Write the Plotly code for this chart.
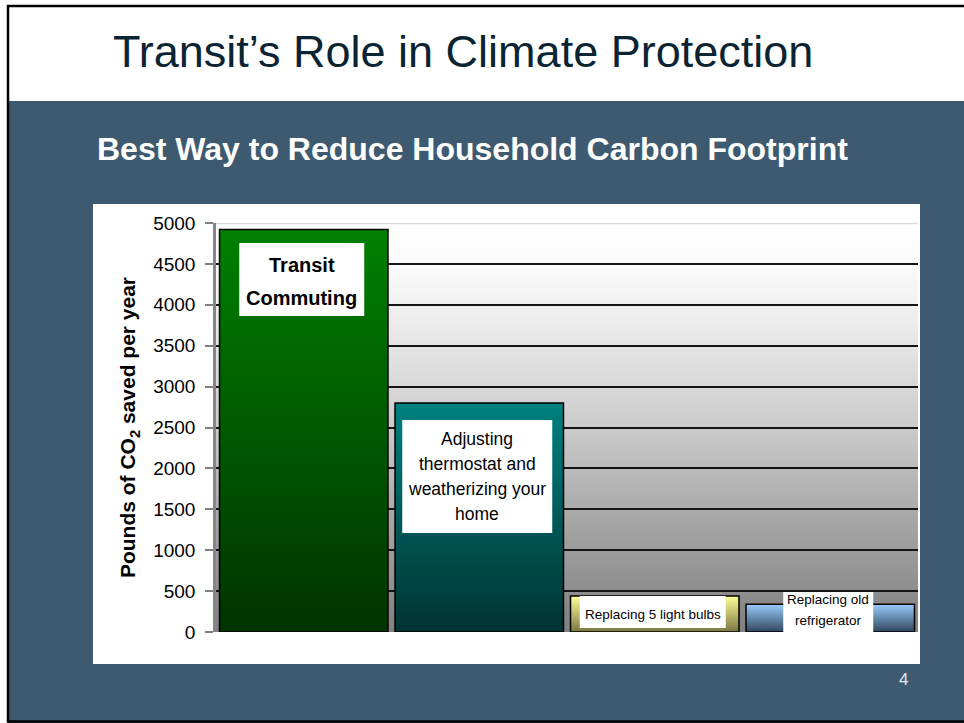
import base64
import plotly.graph_objects as go

# ---------------- data ----------------
categories = [
    "Transit Commuting",
    "Adjusting thermostat and weatherizing your home",
    "Replacing 5 light bulbs",
    "Replacing old refrigerator",
]
values = [4920, 2800, 440, 340]
label_lines = [
    ["<b>Transit</b>", "<b>Commuting</b>"],
    ["Adjusting", "thermostat and", "weatherizing your", "home"],
    ["Replacing 5 light bulbs"],
    ["Replacing old", "refrigerator"],
]
y_tickvals = [0, 500, 1000, 1500, 2000, 2500, 3000, 3500, 4000, 4500, 5000]
y_ticktext = [str(v) for v in y_tickvals]

# ---------------- styles ----------------
W, H = 964, 723
ML, MR, MT, MB = 216, 46, 223, 91
PW, PH = W - ML - MR, H - MT - MB
YMAX = 5000

top_colors = ["#008000", "#008080", "#ffff99", "#99ccff"]
bottom_colors = ["#003300", "#003333", "#7a7640", "#2f465c"]
BAR_HALF = 0.48
FONT = "Liberation Sans, Arial, sans-serif"
SLIDE_BLUE = "#3d5a70"

# label box geometry (pixels) and text style
label_box = [  # (width, height, y centre in data units, font size, line gap px, line offset px)
    (125, 73, 4309, 20, 33, -2),
    (150, 113, 1901, 17.5, 25.3, 0),
    (146, 32, 244, 13.5, 0, -2),
    (90, 42, 232, 13.5, 21.7, 3),
]


def px_x(px):
    return (px - ML) / PW


def px_y(py):
    return (MT + PH - py) / PH


fig = go.Figure()

# bars drawn as gradient-filled polygons on the data axes
for i, v in enumerate(values):
    xs = [i - BAR_HALF, i + BAR_HALF, i + BAR_HALF, i - BAR_HALF, i - BAR_HALF]
    ys = [0, 0, v, v, 0]
    fig.add_trace(go.Scatter(
        x=xs, y=ys, mode="lines", fill="toself",
        fillgradient=dict(type="vertical",
                          colorscale=[[0, bottom_colors[i]], [1, top_colors[i]]]),
        line=dict(color="#000000", width=1.5),
        name=categories[i], hoverinfo="name", showlegend=False,
    ))

# plot-area background gradient (white -> grey)
svg = (
    '<svg xmlns="http://www.w3.org/2000/svg" width="100" height="100" '
    'viewBox="0 0 100 100" preserveAspectRatio="none">'
    '<defs><linearGradient id="g" x1="0" y1="0" x2="0" y2="1">'
    '<stop offset="0" stop-color="#ffffff"/>'
    '<stop offset="0.1" stop-color="#fbfbfb"/>'
    '<stop offset="0.25" stop-color="#ebebeb"/>'
    '<stop offset="0.5" stop-color="#cbcbcb"/>'
    '<stop offset="0.75" stop-color="#a3a3a3"/>'
    '<stop offset="1" stop-color="#808080"/>'
    '</linearGradient></defs>'
    '<rect x="0" y="0" width="100" height="100" fill="url(#g)"/></svg>'
)
src = "data:image/svg+xml;base64," + base64.b64encode(svg.encode()).decode()
fig.add_layout_image(dict(source=src, xref="x", yref="y", x=-0.5, y=YMAX,
                          sizex=4, sizey=YMAX, sizing="stretch", layer="below"))

shapes = []
# slide: blue body, white chart box, black frame
shapes.append(dict(type="rect", xref="paper", yref="paper", layer="below",
                   x0=px_x(8), x1=px_x(1000), y0=px_y(101), y1=px_y(723),
                   fillcolor=SLIDE_BLUE, line=dict(width=0)))
shapes.append(dict(type="rect", xref="paper", yref="paper", layer="below",
                   x0=px_x(93), x1=px_x(920), y0=px_y(204), y1=px_y(664),
                   fillcolor="#ffffff", line=dict(width=0)))
shapes.append(dict(type="rect", xref="paper", yref="paper", layer="below",
                   x0=px_x(8), x1=px_x(1000), y0=px_y(6), y1=px_y(721.5),
                   fillcolor="rgba(0,0,0,0)", line=dict(color="#000000", width=2.5)))
# light top border of plot area
shapes.append(dict(type="line", xref="x", yref="y", layer="above",
                   x0=-0.5, x1=3.5, y0=YMAX, y1=YMAX,
                   line=dict(color="#d9d9d9", width=2.5)))

annotations = []
for i, lines in enumerate(label_lines):
    w, h, yc, fs, gap, off = label_box[i]
    shapes.append(dict(type="rect", layer="above", xref="x", yref="y",
                       xsizemode="pixel", ysizemode="pixel",
                       xanchor=i, yanchor=yc,
                       x0=-w / 2 - 2, x1=w / 2 - 2, y0=-h / 2, y1=h / 2,
                       fillcolor="#ffffff", line=dict(width=0)))
    n = len(lines)
    for k, t in enumerate(lines):
        shift = -((k - (n - 1) / 2) * gap) + off
        annotations.append(dict(x=i, y=yc, xref="x", yref="y", text=t,
                                showarrow=False, xshift=-2, yshift=shift,
                                xanchor="center", yanchor="middle",
                                font=dict(family=FONT, size=fs, color="#000000")))

# slide title, chart title, page number
annotations.append(dict(x=px_x(111), y=px_y(51), xref="paper", yref="paper",
                        text="Transit’s Role in Climate Protection", showarrow=False,
                        xanchor="left", yanchor="middle",
                        font=dict(family=FONT, size=45, color="#0b2433")))
annotations.append(dict(x=px_x(95), y=px_y(149), xref="paper", yref="paper",
                        text="<b>Best Way to Reduce Household Carbon Footprint</b>",
                        showarrow=False, xanchor="left", yanchor="middle",
                        font=dict(family=FONT, size=32, color="#ffffff")))
annotations.append(dict(x=px_x(903), y=px_y(679), xref="paper", yref="paper",
                        text="4", showarrow=False, xanchor="center", yanchor="middle",
                        font=dict(family=FONT, size=17, color="#e3e9ee")))

fig.update_layout(
    width=W, height=H,
    margin=dict(l=ML, r=MR, t=MT, b=MB, pad=0),
    paper_bgcolor="#ffffff",
    plot_bgcolor="rgba(0,0,0,0)",
    showlegend=False,
    shapes=shapes,
    annotations=annotations,
    xaxis=dict(range=[-0.5, 3.5], showgrid=False, zeroline=False,
               showticklabels=False, ticks="", showline=False, fixedrange=True),
    yaxis=dict(range=[0, YMAX], tickvals=y_tickvals, ticktext=y_ticktext,
               showgrid=True, gridcolor="#141414", gridwidth=1.5,
               zeroline=False, showline=True, linecolor="#868686", linewidth=2.5,
               ticks="outside", ticklen=8, tickwidth=1.5, tickcolor="#808080",
               ticklabelstandoff=6,
               tickfont=dict(family=FONT, size=19, color="#000000"),
               title=dict(text="<b>Pounds of CO<sub>2</sub> saved per year</b>",
                          font=dict(family=FONT, size=21, color="#000000"),
                          standoff=12),
               fixedrange=True),
)

fig.write_html("out.html")
